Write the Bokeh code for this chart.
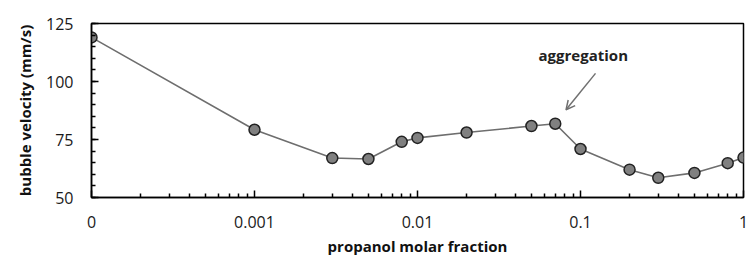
from bokeh.plotting import figure
from bokeh.models import FixedTicker, CustomJSTickFormatter, Arrow, OpenHead, Label, ColumnDataSource
from bokeh.embed import file_html
from bokeh.resources import INLINE

# data: propanol molar fraction (0 drawn at the 1e-4 slot of the log axis)
x_vals = [0, 0.001, 0.003, 0.005, 0.008, 0.01, 0.02, 0.05, 0.07, 0.1, 0.2, 0.3, 0.5, 0.8, 1.0]
velocity = [119, 79.2, 67.0, 66.6, 74.0, 75.7, 78.0, 80.8, 81.8, 70.9, 62.0, 58.5, 60.6, 64.8, 67.2]
x_tick_vals = [1e-4, 1e-3, 1e-2, 1e-1, 1]
y_tick_vals = [50, 75, 100, 125]
ZERO_POS = 1e-4

x_plot = [ZERO_POS if v == 0 else v for v in x_vals]
src = ColumnDataSource(dict(x=x_plot, y=velocity))

FONT = "Open Sans"

p = figure(width=749, height=258, x_axis_type="log", x_range=(1e-4, 1), y_range=(50, 125),
           output_backend="svg", toolbar_location=None,
           min_border_left=91, min_border_right=6, min_border_top=23, min_border_bottom=58)
p.xgrid.visible = False
p.ygrid.visible = False
p.outline_line_color = "black"
p.outline_line_width = 1.5
p.background_fill_color = "white"
p.border_fill_color = "white"

minor_x = [m * 10.0 ** e for e in range(-4, 0) for m in range(2, 10)]
p.xaxis.ticker = FixedTicker(ticks=x_tick_vals, minor_ticks=minor_x)
p.xaxis.formatter = CustomJSTickFormatter(code="""
if (tick < 0.0005) return '0';
if (tick < 0.005) return '0.001';
if (tick < 0.05) return '0.01';
if (tick < 0.5) return '0.1';
return '1';
""")
p.yaxis.ticker = FixedTicker(ticks=y_tick_vals, minor_ticks=list(range(50, 126, 5)))

for ax in (p.xaxis[0], p.yaxis[0]):
    ax.axis_line_color = "black"
    ax.axis_line_width = 1.5
    ax.major_tick_in = 7
    ax.major_tick_out = 0
    ax.minor_tick_in = 4
    ax.minor_tick_out = 0
    ax.major_tick_line_color = "black"
    ax.major_tick_line_width = 1.5
    ax.minor_tick_line_color = "black"
    ax.minor_tick_line_width = 1.5
    ax.major_label_text_font = FONT
    ax.major_label_text_font_size = "16px"
    ax.major_label_text_color = "#1a1a1a"
    ax.axis_label_text_font = FONT
    ax.axis_label_text_font_style = "bold"
    ax.axis_label_text_font_size = "15px"
    ax.axis_label_text_color = "#111111"

p.xaxis.axis_label = "propanol molar fraction"
p.yaxis.axis_label = "bubble velocity (mm/s)"
p.xaxis.major_label_standoff = 18
p.yaxis.major_label_standoff = 18
p.xaxis.axis_label_standoff = 5
p.yaxis.axis_label_standoff = 8

p.line("x", "y", source=src, line_color="#6e6e6e", line_width=1.6)
p.scatter("x", "y", source=src, size=11, fill_color="#808080", line_color="#222222", line_width=1.5)

p.add_layout(Arrow(end=OpenHead(size=9, line_color="#707070", line_width=1.5),
                   x_start=0.1236, y_start=103.5, x_end=0.0815, y_end=87.8,
                   line_color="#707070", line_width=1.5))
p.add_layout(Label(x=0.104, y=111.5, text="aggregation", text_align="center", text_baseline="middle",
                   text_font=FONT, text_font_style="bold", text_font_size="15px", text_color="#222222"))

open("out.html", "w").write(file_html(p, INLINE))
